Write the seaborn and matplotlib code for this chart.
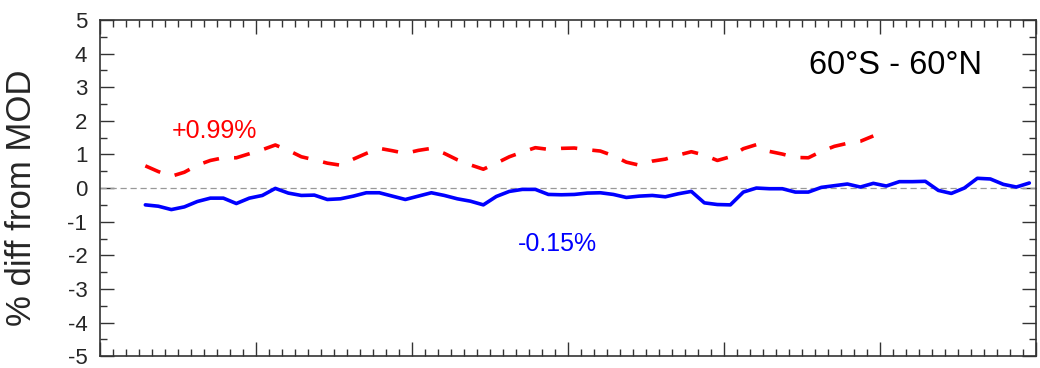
import matplotlib
matplotlib.use("Agg")
import matplotlib.pyplot as plt
import numpy as np
import pandas as pd
import seaborn as sns
from matplotlib.ticker import MultipleLocator, NullFormatter

# monthly time axis (month index since start of record)
months = np.arange(3.5, 72.5, 1.0)

# blue: solid series
blue_vals = [-0.50, -0.54, -0.64, -0.56, -0.40, -0.30, -0.30, -0.46, -0.30, -0.22,
             -0.01, -0.15, -0.22, -0.21, -0.34, -0.32, -0.24, -0.14, -0.14, -0.24,
             -0.34, -0.24, -0.14, -0.22, -0.32, -0.39, -0.50, -0.25, -0.10, -0.04,
             -0.04, -0.19, -0.20, -0.19, -0.15, -0.14, -0.19, -0.28, -0.24, -0.22,
             -0.26, -0.17, -0.10, -0.44, -0.49, -0.50, -0.12, 0.00, -0.02, -0.02,
             -0.12, -0.12, 0.02, 0.07, 0.12, 0.03, 0.14, 0.06, 0.19, 0.19,
             0.20, -0.07, -0.16, 0.00, 0.29, 0.27, 0.11, 0.03, 0.15]

# red: dashed series (shorter record)
red_vals = [0.66, 0.49, 0.35, 0.47, 0.68, 0.82, 0.90, 0.90, 1.02, 1.14,
            1.28, 1.12, 0.93, 0.84, 0.74, 0.68, 0.86, 1.03, 1.18, 1.11,
            1.03, 1.12, 1.18, 1.03, 0.84, 0.69, 0.56, 0.74, 0.93, 1.07,
            1.20, 1.15, 1.18, 1.19, 1.14, 1.10, 0.96, 0.77, 0.68, 0.80,
            0.86, 0.98, 1.08, 0.98, 0.82, 0.93, 1.17, 1.29, 1.09, 1.01,
            0.91, 0.90, 1.09, 1.24, 1.33, 1.39, 1.55]

blue_df = pd.DataFrame({"month": months, "diff": blue_vals})
red_df = pd.DataFrame({"month": months[:len(red_vals)], "diff": red_vals})

sns.set_style("ticks")
plt.rcParams['font.family'] = ['Liberation Sans', 'DejaVu Sans']
plt.rcParams['axes.unicode_minus'] = False

fig = plt.figure(figsize=(10.4, 3.68), dpi=100)
ax = fig.add_axes([0.096, 0.032, 0.900, 0.914])

ax.axhline(0, color='#999999', linewidth=0.9, linestyle=(0, (5, 3)), zorder=1)

sns.lineplot(ax=ax, data=red_df, x="month", y="diff", color="#ff0000",
             linewidth=2.6, linestyle=(0, (4.5, 4.2)), errorbar=None)
sns.lineplot(ax=ax, data=blue_df, x="month", y="diff", color="#0000ff",
             linewidth=2.6, errorbar=None)

ax.set_xlim(0, 72)
ax.set_ylim(-5, 5)
ax.xaxis.set_major_locator(MultipleLocator(12))
ax.xaxis.set_minor_locator(MultipleLocator(1))
ax.xaxis.set_major_formatter(NullFormatter())
ax.yaxis.set_major_locator(MultipleLocator(1))
ax.yaxis.set_minor_locator(MultipleLocator(0.5))

ax.tick_params(axis='both', which='both', direction='in', top=True, right=True,
               color='#333333', width=1.0)
ax.tick_params(axis='both', which='major', length=10)
ax.tick_params(axis='both', which='minor', length=5)
ax.tick_params(axis='y', which='major', labelsize=16, pad=9)

for spine in ax.spines.values():
    spine.set_color('#333333')
    spine.set_linewidth(1.2)

ax.set_xlabel('')
ax.set_ylabel('% diff from MOD', fontsize=25)
ax.yaxis.set_label_coords(-0.066, 0.47)

ax.text(8.8, 1.71, '+0.99%', color='#ff0000', fontsize=18, ha='center', va='center')
ax.text(35.2, -1.65, '-0.15%', color='#0000ff', fontsize=18, ha='center', va='center')
ax.text(61.2, 3.63, '60°S - 60°N', color='black', fontsize=23.5, ha='center', va='center')

plt.savefig('out.png', dpi=100)
